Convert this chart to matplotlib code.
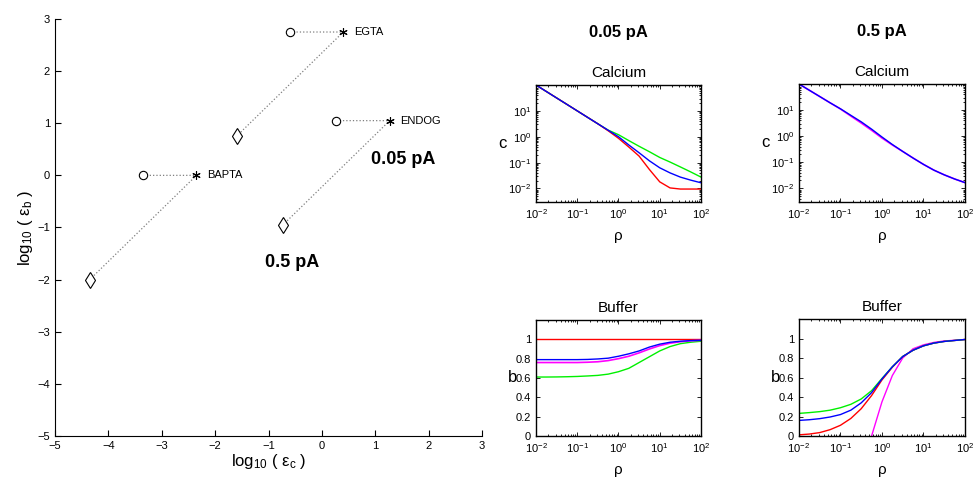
import matplotlib
matplotlib.use('Agg')
import matplotlib.pyplot as plt
import numpy as np

plt.rcParams['font.family'] = ['Liberation Sans', 'DejaVu Sans']
plt.rcParams['mathtext.fontset'] = 'custom'
plt.rcParams['mathtext.rm'] = 'Liberation Sans'
plt.rcParams['mathtext.it'] = 'Liberation Sans:italic'
plt.rcParams['mathtext.default'] = 'regular'

# left panel: buffer parameters (log10 eps_c, log10 eps_b)
buffers = ['EGTA', 'ENDOG', 'BAPTA']
circ_x = [-0.6, 0.27, -3.35]
circ_y = [2.75, 1.05, 0.0]
star_x = [0.4, 1.27, -2.35]
star_y = [2.75, 1.05, 0.0]
diam_x = [-1.6, -0.73, -4.35]
diam_y = [0.75, -0.95, -2.0]

# right panels: rho sampled every quarter decade
rho = 10.0 ** np.arange(-2, 2.01, 0.25)

# calcium, 0.05 pA
c1_green = [100, 56.2, 31.6, 17.8, 10, 5.62, 3.16, 1.8, 1.2, 0.71, 0.427, 0.263, 0.158, 0.105, 0.068, 0.0437, 0.0275]
c1_blue = [100, 56.2, 31.6, 17.8, 10, 5.62, 3.16, 1.78, 1.0, 0.48, 0.24, 0.117, 0.063, 0.04, 0.0275, 0.021, 0.0166]
c1_red = [100, 56.2, 31.6, 17.8, 10, 5.62, 3.16, 1.7, 0.87, 0.4, 0.178, 0.054, 0.018, 0.0105, 0.0095, 0.0095, 0.0095]

# calcium, 0.5 pA
c2_blue = [100, 57.5, 33.1, 19.0, 11.2, 6.3, 3.55, 1.86, 0.93, 0.48, 0.26, 0.145, 0.083, 0.05, 0.033, 0.0229, 0.0166]
c2_magenta = [100, 57.5, 33.1, 19.0, 11.0, 5.9, 3.2, 1.68, 0.85, 0.46, 0.26, 0.145, 0.083, 0.05, 0.033, 0.0229, 0.0166]

# buffer, 0.05 pA
b1_red = [1.0] * 17
b1_blue = [0.79, 0.79, 0.79, 0.79, 0.79, 0.792, 0.797, 0.805, 0.825, 0.85, 0.88, 0.92, 0.95, 0.97, 0.98, 0.987, 0.99]
b1_magenta = [0.76, 0.76, 0.76, 0.76, 0.76, 0.763, 0.768, 0.78, 0.80, 0.825, 0.86, 0.90, 0.935, 0.96, 0.975, 0.985, 0.99]
b1_green = [0.61, 0.61, 0.611, 0.613, 0.616, 0.621, 0.627, 0.64, 0.665, 0.70, 0.76, 0.82, 0.88, 0.925, 0.955, 0.97, 0.98]

# buffer, 0.5 pA
b2_green = [0.232, 0.24, 0.25, 0.265, 0.29, 0.325, 0.38, 0.465, 0.59, 0.71, 0.815, 0.88, 0.925, 0.953, 0.97, 0.98, 0.99]
b2_blue = [0.16, 0.167, 0.178, 0.195, 0.22, 0.265, 0.34, 0.445, 0.585, 0.71, 0.815, 0.88, 0.925, 0.953, 0.97, 0.98, 0.99]
b2_red = [0.012, 0.02, 0.035, 0.065, 0.11, 0.18, 0.28, 0.415, 0.575, 0.705, 0.815, 0.88, 0.925, 0.953, 0.97, 0.98, 0.99]
b2_magenta = [np.nan] * 7 + [0.0, 0.35, 0.62, 0.80, 0.895, 0.935, 0.96, 0.975, 0.982, 0.99]

GREEN = '#00f000'

fig = plt.figure(figsize=(9.74, 4.83), dpi=100)

# ---- left panel
ax = fig.add_axes([0.0565, 0.0973, 0.4384, 0.8634])
for i in range(3):
    ax.plot([circ_x[i], star_x[i], diam_x[i]], [circ_y[i], star_y[i], diam_y[i]],
            ':', color='0.5', lw=0.9)
ax.plot(circ_x, circ_y, 'o', mfc='white', mec='k', ms=6, mew=0.8, ls='none')
ax.plot(star_x, star_y, marker=(6, 2, 0), color='k', ms=6, mew=0.8, ls='none')
ax.plot(diam_x, diam_y, 'd', mfc='white', mec='k', ms=8, mew=0.8, ls='none')
for i in range(3):
    ax.text(star_x[i] + 0.2, star_y[i], buffers[i], fontsize=8, va='center', ha='left')
ax.text(1.52, 0.31, '0.05 pA', fontsize=13, fontweight='bold', ha='center', va='center')
ax.text(-0.56, -1.68, '0.5 pA', fontsize=13, fontweight='bold', ha='center', va='center')
ax.set_xlim(-5, 3)
ax.set_ylim(-5, 3)
ax.set_xticks(range(-5, 4))
ax.set_yticks(range(-5, 4))
ax.set_xticklabels([str(v).replace('-', '\u2212') for v in range(-5, 4)])
ax.set_yticklabels([str(v).replace('-', '\u2212') for v in range(-5, 4)])
ax.spines['top'].set_visible(False)
ax.spines['right'].set_visible(False)
ax.tick_params(direction='in', labelsize=8, length=4, width=0.8)
ax.set_xlabel('log$_{10}$ ( ε$_c$ )', fontsize=12, labelpad=1)
ax.set_ylabel('log$_{10}$ ( ε$_b$ )', fontsize=12, labelpad=2)


def style_small(a):
    a.set_xscale('log')
    a.set_xlim(1e-2, 1e2)
    a.set_xticks([1e-2, 1e-1, 1e0, 1e1, 1e2])
    a.tick_params(which='both', direction='in', top=True, right=True, labelsize=8, width=0.6)
    a.tick_params(which='major', length=3)
    a.tick_params(which='minor', length=1.5)
    a.set_xlabel('ρ', fontsize=11, labelpad=6)
    for s in a.spines.values():
        s.set_linewidth(1.0)


# ---- calcium panels
axc1 = fig.add_axes([0.5503, 0.5818, 0.1694, 0.2422])
axc1.plot(rho, c1_green, color=GREEN, lw=1)
axc1.plot(rho, c1_red, color='red', lw=1)
axc1.plot(rho, c1_blue, color='blue', lw=1)

axc2 = fig.add_axes([0.8203, 0.5818, 0.1704, 0.2443])
axc2.plot(rho, c2_magenta, color='magenta', lw=1.2)
axc2.plot(rho, c2_blue, color='blue', lw=1)

for a, title in [(axc1, '0.05 pA'), (axc2, '0.5 pA')]:
    style_small(a)
    a.set_yscale('log')
    a.set_ylim(0.003, 100)
    a.set_yticks([1e-2, 1e-1, 1e0, 1e1])
    a.set_ylabel('c', fontsize=12, rotation=0, labelpad=4, va='center')
    a.set_title('Calcium', fontsize=11, pad=6)
    a.text(0.5, 1.0 + 45 / 117, title, transform=a.transAxes, fontsize=12,
           fontweight='bold', ha='center', va='bottom')

# ---- buffer panels
axb1 = fig.add_axes([0.5503, 0.0973, 0.1694, 0.2402])
axb1.plot(rho, b1_red, color='red', lw=1)
axb1.plot(rho, b1_green, color=GREEN, lw=1)
axb1.plot(rho, b1_magenta, color='magenta', lw=1.2)
axb1.plot(rho, b1_blue, color='blue', lw=1)

axb2 = fig.add_axes([0.8203, 0.0973, 0.1704, 0.2422])
axb2.plot(rho, b2_magenta, color='magenta', lw=1)
axb2.plot(rho, b2_red, color='red', lw=1)
axb2.plot(rho, b2_green, color=GREEN, lw=1)
axb2.plot(rho, b2_blue, color='blue', lw=1)

for a in (axb1, axb2):
    style_small(a)
    a.set_ylim(0, 1.2)
    a.set_yticks([0, 0.2, 0.4, 0.6, 0.8, 1])
    a.set_yticklabels(['0', '0.2', '0.4', '0.6', '0.8', '1'])
    a.set_ylabel('b', fontsize=12, rotation=0, labelpad=2, va='center')
    a.set_title('Buffer', fontsize=11, pad=6)

fig.savefig('out.png', dpi=100)
